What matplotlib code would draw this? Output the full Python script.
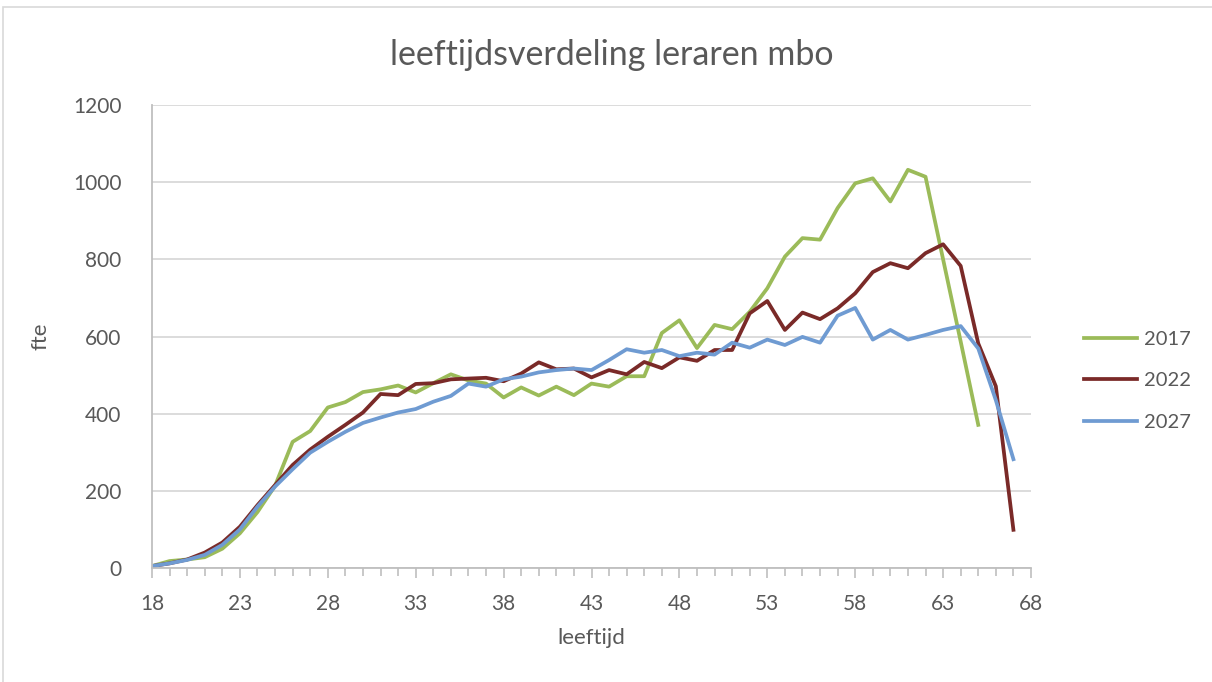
import matplotlib
matplotlib.use("Agg")
import matplotlib.pyplot as plt
from matplotlib.patches import Rectangle
from matplotlib.ticker import MultipleLocator

plt.rcParams['font.family'] = ['Lato', 'DejaVu Sans']

# leeftijden per prognosejaar
leeftijd_2017 = list(range(18, 66))
leeftijd_2022 = list(range(18, 68))
leeftijd_2027 = list(range(18, 68))

fte_2017 = [5, 18, 22, 28, 50, 90, 145, 213, 327, 355, 416, 430, 456, 463, 473, 455,
            479, 502, 486, 478, 442, 468, 447, 470, 448, 478, 470, 497, 497, 609, 642, 570,
            630, 619, 664, 725, 807, 855, 851, 933, 997, 1010, 950, 1032, 1014, 800, 587, 371]
fte_2022 = [5, 12, 22, 40, 66, 107, 163, 215, 267, 307, 340, 371, 403, 451, 448, 477,
            479, 489, 491, 493, 484, 504, 533, 515, 517, 494, 513, 502, 534, 518, 546, 537,
            565, 565, 660, 692, 617, 662, 645, 673, 712, 767, 790, 777, 816, 839, 783, 582,
            471, 99]
fte_2027 = [5, 12, 21, 34, 60, 100, 159, 211, 256, 299, 327, 353, 376, 390, 403, 412,
            431, 446, 478, 470, 489, 496, 507, 513, 517, 513, 539, 567, 558, 565, 549, 558,
            553, 584, 571, 592, 578, 599, 584, 654, 674, 592, 617, 592, 604, 617, 627, 569,
            435, 282]

jaren = ['2017', '2022', '2027']
kleuren = ['#9BBB59', '#7A2A28', '#6F9BD2']
x_ticks = list(range(18, 69, 5))
tekstkleur = '#595959'

fig = plt.figure(figsize=(12.12, 6.82), dpi=100)
ax = fig.add_axes([152/1212, 1-568/682, (1031-152)/1212, (568-105)/682])

# kaderrand om de grafiek
fig.patches.append(Rectangle((3/1212, -0.05), 1.2, 1.05 - 7/682, transform=fig.transFigure,
                             fill=False, edgecolor='#D9D9D9', linewidth=1.2))

ax.plot(leeftijd_2017, fte_2017, color=kleuren[0], lw=2.7, label=jaren[0], solid_joinstyle='round')
ax.plot(leeftijd_2022, fte_2022, color=kleuren[1], lw=2.7, label=jaren[1], solid_joinstyle='round')
ax.plot(leeftijd_2027, fte_2027, color=kleuren[2], lw=2.7, label=jaren[2], solid_joinstyle='round')

ax.set_xlim(18, 68)
ax.set_ylim(0, 1200)
ax.set_xticks(x_ticks)
ax.xaxis.set_minor_locator(MultipleLocator(1))
ax.yaxis.set_major_locator(MultipleLocator(200))
ax.grid(axis='y', color='#D9D9D9', lw=1.3)
ax.set_axisbelow(True)

for s in ['top', 'right']:
    ax.spines[s].set_visible(False)
for s in ['left', 'bottom']:
    ax.spines[s].set_color('#BFBFBF')
    ax.spines[s].set_linewidth(1.3)

ax.tick_params(axis='x', which='both', direction='out', color='#BFBFBF', width=1.2,
               labelsize=15, labelcolor=tekstkleur, pad=12)
ax.tick_params(axis='x', which='major', length=7)
ax.tick_params(axis='x', which='minor', length=6)
ax.tick_params(axis='y', length=0, labelsize=15, labelcolor=tekstkleur, pad=22)

ax.set_xlabel('leeftijd', fontsize=16, color=tekstkleur, labelpad=10)
ax.set_ylabel('fte', fontsize=16, color=tekstkleur, labelpad=16)
fig.text(612/1212, 1-55/682, 'leeftijdsverdeling leraren mbo', ha='center', va='center',
         fontsize=24.5, color=tekstkleur)

ax.legend(loc='center left', bbox_to_anchor=(1.04, 0.404), frameon=False, fontsize=14.5,
          labelcolor=tekstkleur, handlelength=2.6, handletextpad=0.35, labelspacing=1.2)

fig.savefig('out.png', dpi=100)
